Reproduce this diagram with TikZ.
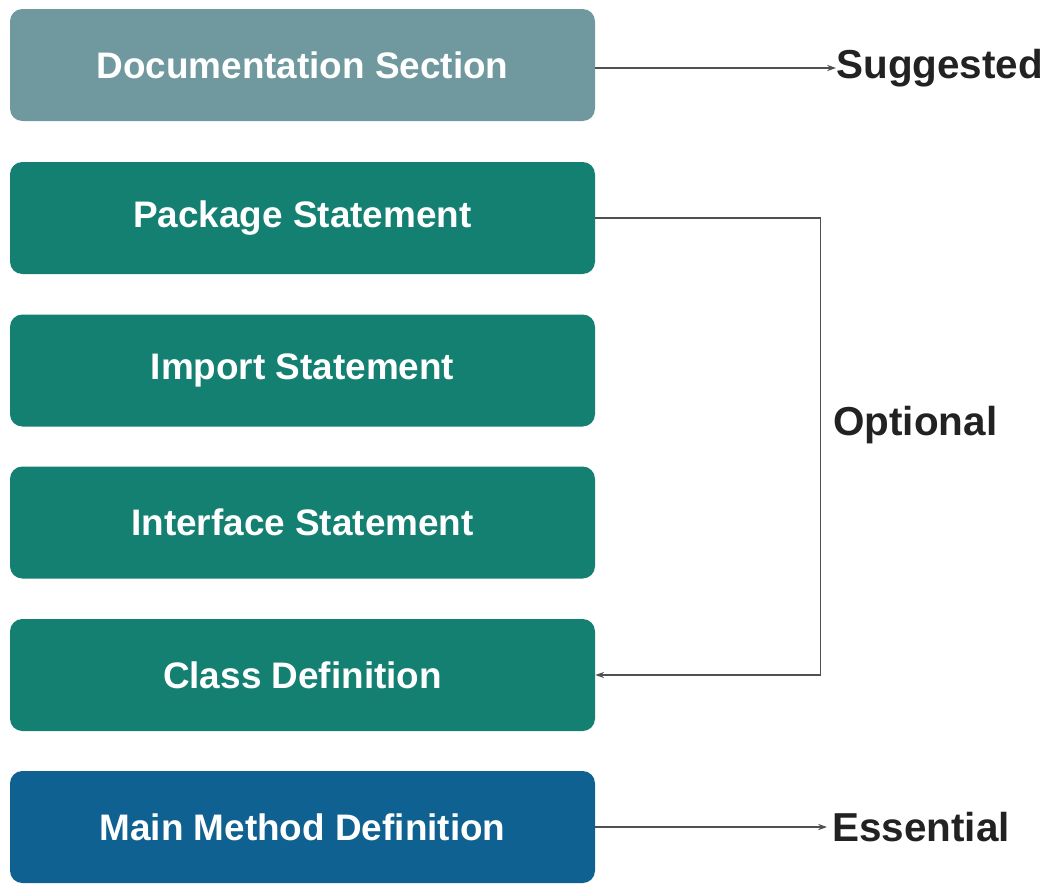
\documentclass[tikz,border=0pt]{standalone}
\usepackage{fontspec}
\setmainfont{Liberation Sans}
\usepackage{xcolor}
\usepackage{tikz}
\usetikzlibrary{arrows.meta,positioning,calc}

\definecolor{docgray}{RGB}{111,153,159}
\definecolor{boxteal}{RGB}{20,128,114}
\definecolor{mainblue}{RGB}{14,97,144}
\definecolor{linegray}{RGB}{80,80,80}
\definecolor{labeltxt}{RGB}{34,34,34}

\begin{document}
\begin{tikzpicture}[
		partbox/.style={rounded corners=7pt,minimum width=11.7cm,minimum height=2.24cm,
			text=white,font=\fontsize{21}{25}\selectfont\bfseries,inner sep=0pt},
		sidelabel/.style={anchor=west,text=labeltxt,font=\fontsize{23}{27}\selectfont\bfseries,inner sep=0pt},
		conn/.style={draw=linegray,line width=0.85pt,-{Stealth[length=5pt,width=3.5pt]}}
	]
		\useasboundingbox (0,0) rectangle (21.02,-17.66);
		% the parts of a program, top to bottom
		\node[partbox,fill=docgray] (doc) at (6.05,-1.3) {Documentation Section};
		\node[partbox,fill=boxteal] (pkg) at (6.05,-4.36) {Package Statement};
		\node[partbox,fill=boxteal] (imp) at (6.05,-7.41) {Import Statement};
		\node[partbox,fill=boxteal] (intf) at (6.05,-10.45) {Interface Statement};
		\node[partbox,fill=boxteal] (cls) at (6.05,-13.5) {Class Definition};
		\node[partbox,fill=mainblue] (mainm) at (6.05,-16.54) {Main Method Definition};
		% labels on the right
		\node[sidelabel] (sugg) at (16.72,-1.36) {Suggested};
		\node[sidelabel] (opt) at (16.66,-8.5) {Optional};
		\node[sidelabel] (ess) at (16.64,-16.54) {Essential};
		\draw[conn] (doc.east |- sugg.west) -- (sugg.west);
		\draw[conn] (pkg.east) -- ++(4.5,0) |- (cls.east);
		\draw[conn] (mainm.east |- ess.west) -- ($(ess.west)+(-0.1,0)$);
	\end{tikzpicture}
\end{document}
